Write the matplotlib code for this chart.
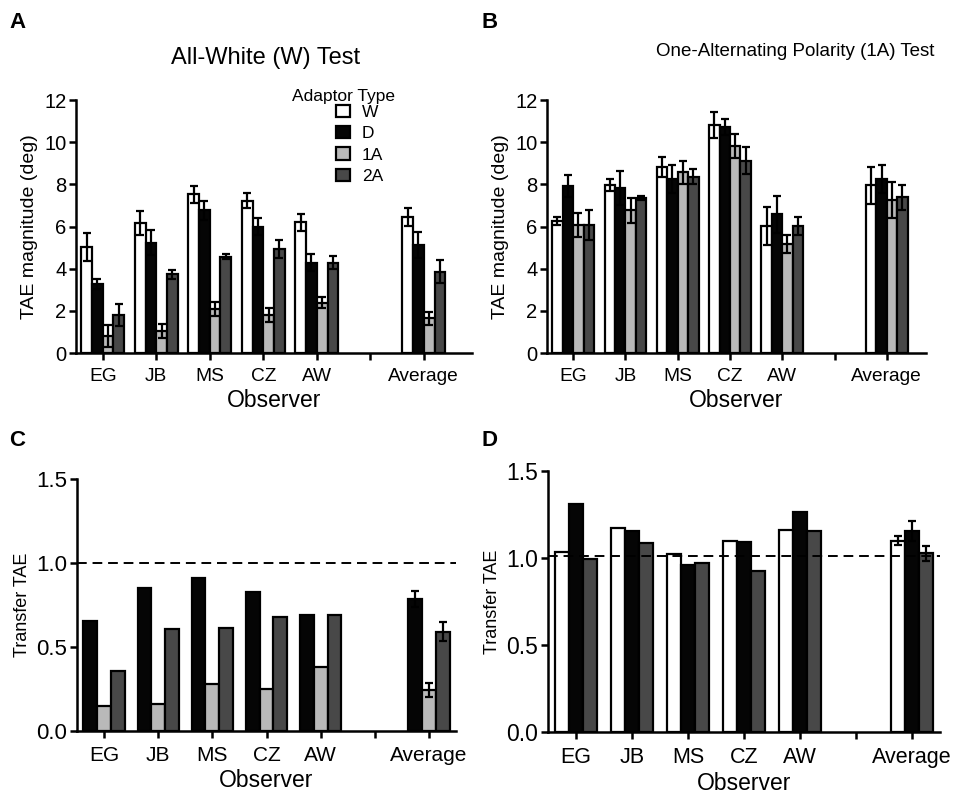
import matplotlib
matplotlib.use("Agg")
import matplotlib.pyplot as plt
from matplotlib.patches import Patch
import numpy as np

plt.rcParams['font.family'] = ['Liberation Sans', 'DejaVu Sans']

observers = ["EG", "JB", "MS", "CZ", "AW", "", "Average"]
adaptors = ["W", "D", "1A", "2A"]
colors = {"W": "#ffffff", "D": "#050505", "1A": "#b9b9b9", "2A": "#484848"}

# Panel A: All-White (W) test, TAE magnitude (deg)
A_W = [5.03, 6.17, 7.52, 7.22, 6.19, np.nan, 6.44]
A_D = [3.29, 5.24, 6.77, 5.98, 4.29, np.nan, 5.11]
A_1A = [0.79, 1.04, 2.09, 1.80, 2.39, np.nan, 1.65]
A_2A = [1.82, 3.73, 4.57, 4.92, 4.29, np.nan, 3.86]
A_W_err = [0.65, 0.55, 0.39, 0.36, 0.38, np.nan, 0.43]
A_D_err = [0.24, 0.61, 0.44, 0.40, 0.41, np.nan, 0.62]
A_1A_err = [0.52, 0.35, 0.35, 0.32, 0.25, np.nan, 0.30]
A_2A_err = [0.52, 0.21, 0.13, 0.43, 0.31, np.nan, 0.54]

# Panel B: One-Alternating Polarity (1A) test
B_W = [6.25, 7.95, 8.83, 10.81, 6.02, np.nan, 7.95]
B_D = [7.92, 7.82, 8.26, 10.72, 6.57, np.nan, 8.26]
B_1A = [6.05, 6.76, 8.58, 9.81, 5.19, np.nan, 7.25]
B_2A = [6.05, 7.36, 8.37, 9.13, 6.02, np.nan, 7.39]
B_W_err = [0.19, 0.28, 0.46, 0.62, 0.91, np.nan, 0.88]
B_D_err = [0.53, 0.82, 0.67, 0.36, 0.87, np.nan, 0.65]
B_1A_err = [0.57, 0.60, 0.55, 0.56, 0.43, np.nan, 0.85]
B_2A_err = [0.71, 0.10, 0.37, 0.64, 0.44, np.nan, 0.59]

# Panel C: Transfer TAE (W test), adaptors D, 1A, 2A
C_D = [0.656, 0.854, 0.908, 0.830, 0.693, np.nan, 0.787]
C_1A = [0.151, 0.161, 0.280, 0.250, 0.383, np.nan, 0.244]
C_2A = [0.360, 0.606, 0.614, 0.680, 0.693, np.nan, 0.590]
C_D_err = [np.nan, np.nan, np.nan, np.nan, np.nan, np.nan, 0.047]
C_1A_err = [np.nan, np.nan, np.nan, np.nan, np.nan, np.nan, 0.044]
C_2A_err = [np.nan, np.nan, np.nan, np.nan, np.nan, np.nan, 0.056]

# Panel D: Transfer TAE (1A test), adaptors W, D, 2A
D_W = [1.035, 1.173, 1.025, 1.100, 1.159, np.nan, 1.100]
D_D = [1.309, 1.156, 0.960, 1.092, 1.263, np.nan, 1.156]
D_2A = [0.997, 1.089, 0.972, 0.928, 1.156, np.nan, 1.027]
D_W_err = [np.nan, np.nan, np.nan, np.nan, np.nan, np.nan, 0.027]
D_D_err = [np.nan, np.nan, np.nan, np.nan, np.nan, np.nan, 0.059]
D_2A_err = [np.nan, np.nan, np.nan, np.nan, np.nan, np.nan, 0.042]

W, H = 960, 794
fig = plt.figure(figsize=(W / 100, H / 100), dpi=100)


def add_ax(left, right, top, bottom):
    return fig.add_axes([left / W, 1 - bottom / H, (right - left) / W, (bottom - top) / H])


def style(ax, ylim, yticks, ylabel, ylabel_size, xlim, ytickfmt, ytick_size, xtick_size):
    ax.set_xlim(*xlim)
    ax.set_ylim(*ylim)
    ax.set_yticks(yticks)
    ax.set_yticklabels([ytickfmt(v) for v in yticks], fontsize=ytick_size)
    ax.set_xticks(range(len(observers)))
    ax.set_xticklabels(observers, fontsize=xtick_size)
    for s in ["top", "right"]:
        ax.spines[s].set_visible(False)
    for s in ["left", "bottom"]:
        ax.spines[s].set_linewidth(1.8)
    ax.tick_params(axis="both", direction="out", width=1.8, length=5, pad=2)
    ax.tick_params(axis="x", pad=6)
    ax.set_ylabel(ylabel, fontsize=ylabel_size, labelpad=4)
    ax.set_xlabel("Observer", fontsize=16.5, labelpad=3)


def draw_groups(ax, series, errs, names, width):
    n = len(series)
    x = np.arange(len(observers))
    for i, (vals, err, name) in enumerate(zip(series, errs, names)):
        off = (i - (n - 1) / 2) * width
        ax.bar(x + off, vals, width=width, color=colors[name], edgecolor="black",
               linewidth=1.6, zorder=2)
        ax.errorbar(x + off, vals, yerr=err, fmt="none", ecolor="black",
                    elinewidth=1.6, capsize=3, capthick=1.6, zorder=3)


# Panel A
axA = add_ax(76, 472, 100, 353)
draw_groups(axA, [A_W, A_D, A_1A, A_2A], [A_W_err, A_D_err, A_1A_err, A_2A_err], adaptors, 0.2)
style(axA, (0, 12), [0, 2, 4, 6, 8, 10, 12], "TAE magnitude (deg)", 14, (-0.5, 6.9),
      lambda v: f"{v:g}", 14.5, 13.8)
handles = [Patch(facecolor=colors[a], edgecolor="black", linewidth=1.6) for a in adaptors]
leg = axA.legend(handles, adaptors, loc="upper left", bbox_to_anchor=((336 - 76) / 396, 1.0 - 5 / 253),
                 frameon=False, fontsize=12.5, handlelength=0.8, handleheight=0.7,
                 handletextpad=0.7, labelspacing=0.35, borderpad=0, borderaxespad=0)
fig.text(343 / W, 1 - 96 / H, "Adaptor Type", fontsize=12.5, ha="center", va="center")

# Panel B
axB = add_ax(547, 926, 100, 353)
draw_groups(axB, [B_W, B_D, B_1A, B_2A], [B_W_err, B_D_err, B_1A_err, B_2A_err], adaptors, 0.2)
style(axB, (0, 12), [0, 2, 4, 6, 8, 10, 12], "TAE magnitude (deg)", 14, (-0.5, 6.75),
      lambda v: f"{v:g}", 14.5, 13.8)

# Panel C
axC = add_ax(77, 456, 479, 731)
draw_groups(axC, [C_D, C_1A, C_2A], [C_D_err, C_1A_err, C_2A_err], ["D", "1A", "2A"], 0.255)
style(axC, (0, 1.5), [0, 0.5, 1.0, 1.5], "Transfer TAE", 13, (-0.5, 6.5),
      lambda v: f"{v:.1f}", 16, 15)
axC.axhline(1.0, color="black", linestyle=(0, (5, 3)), linewidth=1.4, zorder=1)

# Panel D
axD = add_ax(548, 940, 471, 732)
draw_groups(axD, [D_W, D_D, D_2A], [D_W_err, D_D_err, D_2A_err], ["W", "D", "2A"], 0.255)
style(axD, (0, 1.5), [0, 0.5, 1.0, 1.5], "Transfer TAE", 13, (-0.5, 6.5),
      lambda v: f"{v:.1f}", 16.5, 15.5)
axD.axhline(1.01, color="black", linestyle=(0, (5, 3)), linewidth=1.4, zorder=4)

# Titles and panel letters
fig.text(266 / W, 1 - 58 / H, "All-White (W) Test", fontsize=17, ha="center", va="center")
fig.text(795 / W, 1 - 51 / H, "One-Alternating Polarity (1A) Test", fontsize=13.5, ha="center", va="center")
for lbl, x, y in [("A", 9, 22), ("B", 481, 22), ("C", 9, 440), ("D", 481, 440)]:
    fig.text(x / W, 1 - y / H, lbl, fontsize=16, fontweight="bold", ha="left", va="center")

fig.savefig("out.png", dpi=100)
